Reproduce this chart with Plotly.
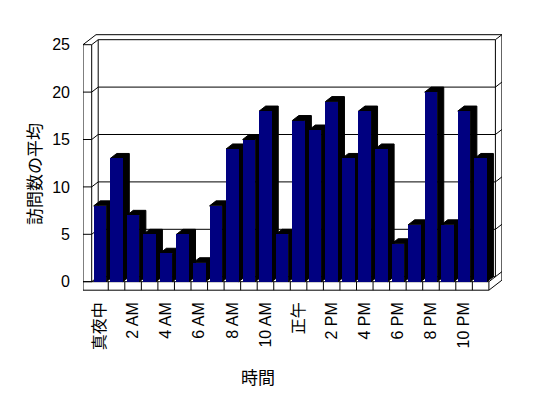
import plotly.graph_objects as go

# ---- data ----
hours = list(range(24))
visits = [8, 13, 7, 5, 3, 5, 2, 8, 14, 15, 18, 5, 17, 16, 19, 13, 18, 14, 4, 6, 20, 6, 18, 13]
tick_positions = [0, 2, 4, 6, 8, 10, 12, 14, 16, 18, 20, 22]
tick_labels = ["真夜中", "2 AM", "4 AM", "6 AM", "8 AM", "10 AM", "正午", "2 PM", "4 PM", "6 PM", "8 PM", "10 PM"]
y_ticks = [0, 5, 10, 15, 20, 25]

# ---- geometry (pixels, page coordinates; the page body has an 8px margin) ----
OFF = 8
W, H = 548 - OFF, 398 - OFF
SLOT = 16.55          # px per category
UNIT = 9.48           # px per value unit
FRONT_LEFT = 91.7 - OFF
BASE = 281.7 - OFF
PX0, PX1 = 83 - OFF, 502 - OFF
PY0, PY1 = 34 - OFF, 292 - OFF
L, R, T, B = PX0, W - PX1, PY0, H - PY1

xr = [-0.5 - (FRONT_LEFT - PX0) / SLOT, -0.5 + (PX1 - FRONT_LEFT) / SLOT]
yr = [(BASE - PY1) / UNIT, (BASE - PY0) / UNIT]

DX = 6.5 / SLOT       # depth offset in x units
DY = 5.0 / UNIT       # depth offset in y units
WT = 8.7 / SLOT       # side wall thickness
FT = 8.5 / UNIT       # floor thickness
X0, X1 = -0.5, len(hours) - 0.5
XL = X0 - WT
VTOP = max(y_ticks)
BW = 0.76

line = dict(color="black", width=1)
shapes = []


def seg(xa, ya, xb, yb, layer="below"):
    shapes.append(dict(type="line", xref="x", yref="y", x0=xa, y0=ya, x1=xb, y1=yb,
                       line=line, layer=layer))


# side wall
seg(XL, -FT, XL, VTOP)
seg(X0, 0, X0, VTOP)
seg(XL, VTOP, XL + 2 * DX, VTOP + 2 * DY)
# top outer
seg(XL + 2 * DX, VTOP + 2 * DY, X1 + 2 * DX, VTOP + 2 * DY)
# right outer
seg(X1 + 2 * DX, -FT + 2 * DY, X1 + 2 * DX, VTOP + 2 * DY)
# back wall edges
seg(X0 + DX, DY, X0 + DX, VTOP + DY)
seg(X1 + DX, DY, X1 + DX, VTOP + DY)
# gridlines wrapping the walls
for v in y_ticks:
    seg(XL, v, X0, v)
    seg(X0, v, X0 + DX, v + DY)
    seg(X0 + DX, v + DY, X1 + DX, v + DY)
    seg(X1 + DX, v + DY, X1 + 2 * DX, v + 2 * DY)
# floor
seg(XL, 0, X1, 0)
seg(XL, -FT, X1, -FT)
seg(X1, -FT, X1, 0)
seg(X1, -FT, X1 + 2 * DX, -FT + 2 * DY)
seg(X1, 0, X1 + DX, DY)
for k in range(1, len(hours)):
    seg(X0 + k, -FT, X0 + k, 0)

# bar depth (black extrusions), drawn under the bar fronts
for xi, v in zip(hours, visits):
    a, b = xi - BW / 2, xi + BW / 2
    path = (f"M {a},{v} L {a + DX},{v + DY} L {b + DX},{v + DY} "
            f"L {b + DX},{DY} L {b},0 L {b},{v} Z")
    shapes.append(dict(type="path", xref="x", yref="y", path=path,
                       fillcolor="black", line=dict(color="black", width=1), layer="between"))

fig = go.Figure()
fig.add_trace(go.Bar(x=hours, y=visits, width=BW,
                     marker=dict(color="#000080", line=dict(width=0)),
                     showlegend=False))

font_latin = "Liberation Sans, Noto Sans CJK JP, sans-serif"
font_cjk = "Noto Sans CJK JP, sans-serif"

pw, ph = PX1 - PX0, PY1 - PY0
annotations = [
    dict(text="訪問数の平均", xref="paper", yref="paper",
         x=(33 - OFF - PX0) / pw, y=(PY1 - (174 - OFF)) / ph, showarrow=False, textangle=-90,
         font=dict(family=font_cjk, size=17, color="black"), xanchor="center", yanchor="middle"),
    dict(text="時間", xref="paper", yref="paper",
         x=(258 - OFF - PX0) / pw, y=(PY1 - (376 - OFF)) / ph, showarrow=False,
         font=dict(family=font_cjk, size=17, color="black"), xanchor="center", yanchor="middle"),
]

fig.update_layout(
    width=W, height=H,
    margin=dict(l=L, r=R, t=T, b=B, pad=0),
    paper_bgcolor="white", plot_bgcolor="white",
    shapes=shapes, annotations=annotations,
    font=dict(family=font_latin, size=16, color="black"),
    xaxis=dict(range=xr, tickvals=tick_positions, ticktext=tick_labels, tickangle=-90,
               showgrid=False, zeroline=False, showline=False, ticks="",
               ticklabelstandoff=6, fixedrange=True),
    yaxis=dict(range=yr, tickvals=y_ticks, showgrid=False, zeroline=False, showline=False,
               ticks="", ticklabelstandoff=12, fixedrange=True),
    bargap=0,
)

fig.write_html("out.html")
